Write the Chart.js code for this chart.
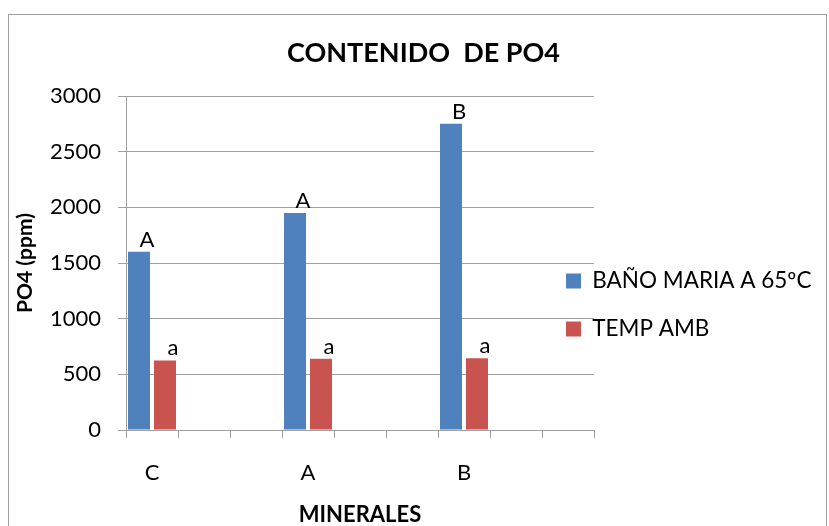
<!DOCTYPE html>
<html lang="es">
<head>
<meta charset="utf-8">
<title>Contenido de PO4</title>
<script src="https://cdn.jsdelivr.net/npm/chart.js@4"></script>
<style>
  html, body { margin: 0; padding: 0; background: #fff; }
  canvas { display: block; }
</style>
</head>
<body>
<canvas id="grafico" width="829" height="526"></canvas>
<script>
// Minerales analizados; las posiciones vacías separan los grupos a lo largo del eje
const minerales = ['C', '', '', 'A', '', '', 'B', '', ''];

// Contenido de PO4 (ppm) según el tratamiento
const banoMaria = [1600, null, null, 1950, null, null, 2750, null, null];
const tempAmb   = [625, null, null, 640, null, null, 645, null, null];

// Letras de significancia escritas sobre cada barra
const letrasBanoMaria = ['A', '', '', 'A', '', '', 'B', '', ''];
const letrasTempAmb   = ['a', '', '', 'a', '', '', 'a', '', ''];

// Rango y paso de las marcas del eje Y
const ejeY = { min: 0, max: 3000, paso: 500 };

const GRIS = '#a0a0a0';
const FUENTE = "Lato, 'Open Sans', sans-serif";

// Marco gris alrededor de todo el gráfico
const marcoPlugin = {
  id: 'marco',
  beforeDraw(chart) {
    const { ctx, width, height } = chart;
    ctx.save();
    ctx.fillStyle = '#fff';
    ctx.fillRect(0, 0, width, height);
    ctx.strokeStyle = GRIS;
    ctx.lineWidth = 1;
    ctx.strokeRect(8.5, 14.5, 818, height);
    ctx.restore();
  }
};

// Coloca la leyenda junto al final de las líneas de división
const leyendaPlugin = {
  id: 'posLeyenda',
  afterLayout(chart) {
    const lg = chart.legend;
    if (!lg) return;
    const lab = lg.options.labels;
    const pad = lab.padding;
    const alto = Math.max(lab.font.size || 22, lab.boxHeight || 0);
    const h = lg.height;
    lg.left = 566 - pad;
    lg.right = chart.width;
    lg.width = lg.right - lg.left;
    lg.top = 281 - pad - alto / 2;
    lg.bottom = lg.top + h;
  }
};

// Letras sobre las barras, tomadas de cada serie
const letrasPlugin = {
  id: 'letras',
  afterDatasetsDraw(chart) {
    const ctx = chart.ctx;
    ctx.save();
    ctx.font = '22px ' + FUENTE;
    ctx.fillStyle = '#000';
    ctx.textAlign = 'center';
    ctx.textBaseline = 'alphabetic';
    chart.data.datasets.forEach((ds, i) => {
      const meta = chart.getDatasetMeta(i);
      meta.data.forEach((barra, j) => {
        const txt = ds.letras[j];
        if (!txt || ds.data[j] == null) return;
        ctx.fillText(txt, barra.x + 8, barra.y - 5);
      });
    });
    ctx.restore();
  }
};

Chart.defaults.font.family = FUENTE;
Chart.defaults.color = '#000';

new Chart(document.getElementById('grafico'), {
  type: 'bar',
  data: {
    labels: minerales,
    datasets: [
      {
        label: 'BAÑO MARIA A 65ºC',
        data: banoMaria,
        letras: letrasBanoMaria,
        backgroundColor: '#4F81BD',
        categoryPercentage: 1.0,
        barPercentage: 0.846
      },
      {
        label: 'TEMP AMB',
        data: tempAmb,
        letras: letrasTempAmb,
        backgroundColor: '#C9534F',
        categoryPercentage: 1.0,
        barPercentage: 0.846
      }
    ]
  },
  options: {
    responsive: false,
    animation: false,
    devicePixelRatio: 1,
    layout: { padding: { left: 18, top: 14, right: 0, bottom: 0 } },
    plugins: {
      title: {
        display: true,
        text: 'CONTENIDO  DE PO4',
        color: '#000',
        font: { size: 27, weight: 'bold', lineHeight: 1.2 },
        padding: { top: 23, bottom: 26.6 }
      },
      legend: {
        position: 'right',
        align: 'start',
        maxWidth: 235,
        labels: {
          color: '#000',
          font: { size: 22.5 },
          boxWidth: 15,
          boxHeight: 15,
          padding: 25.5
        }
      },
      tooltip: { enabled: false }
    },
    scales: {
      x: {
        offset: true,
        grid: { display: true, drawOnChartArea: false, drawTicks: true, tickLength: 8, color: GRIS },
        border: { display: true, color: GRIS },
        ticks: { color: '#000', font: { size: 22 }, padding: 22, autoSkip: false, maxRotation: 0 },
        title: {
          display: true,
          text: 'MINERALES',
          color: '#000',
          font: { size: 22, weight: 'bold', lineHeight: 1 },
          padding: 0
        },
        afterFit(s) { s.height = 96; }
      },
      y: {
        min: ejeY.min,
        max: ejeY.max,
        ticks: {
          stepSize: ejeY.paso,
          color: '#000',
          font: { size: 22 },
          padding: 17,
          callback: (v) => String(v)
        },
        grid: { color: GRIS, tickLength: 8 },
        border: { color: GRIS },
        title: {
          display: true,
          text: 'PO4 (ppm)',
          color: '#000',
          font: { size: 21, weight: 'bold', lineHeight: 0.7 },
          padding: 0
        },
        afterFit(s) { s.width = 108; }
      }
    }
  },
  plugins: [marcoPlugin, leyendaPlugin, letrasPlugin]
});
</script>
</body>
</html>
